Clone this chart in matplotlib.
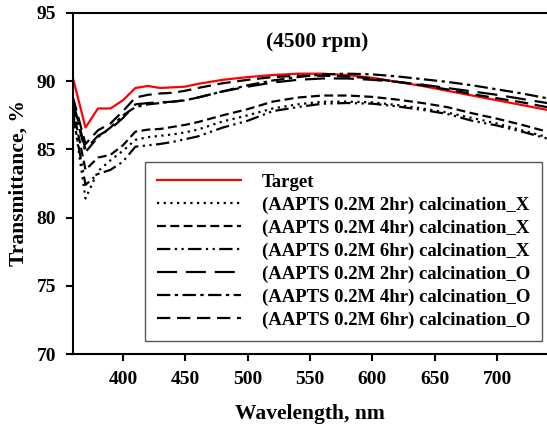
import matplotlib
matplotlib.use("Agg")
import matplotlib.pyplot as plt

plt.rcParams["font.family"] = ["Liberation Serif", "DejaVu Serif"]
plt.rcParams["font.weight"] = "bold"

wavelength = [360, 370, 380, 390, 400, 410, 420, 430, 440, 450, 460, 480, 500,
              520, 540, 560, 580, 600, 620, 640, 660, 680, 700, 720, 740]

target = [90.2, 86.6, 88.0, 88.0, 88.6, 89.5, 89.65, 89.5, 89.55, 89.6, 89.8, 90.1, 90.3,
          90.45, 90.55, 90.55, 90.45, 90.25, 89.95, 89.65, 89.3, 88.95, 88.6, 88.25, 87.9]
x_2hr = [87.8, 81.4, 83.4, 84.2, 84.9, 85.7, 85.9, 86.0, 86.1, 86.25, 86.45, 87.05, 87.5,
         88.0, 88.3, 88.5, 88.5, 88.45, 88.25, 88.0, 87.7, 87.3, 86.9, 86.4, 85.9]
x_4hr = [88.0, 83.5, 84.4, 84.6, 85.3, 86.3, 86.45, 86.5, 86.65, 86.8, 87.0, 87.5, 87.95,
         88.5, 88.8, 88.95, 88.95, 88.85, 88.65, 88.4, 88.1, 87.65, 87.25, 86.8, 86.3]
x_6hr = [87.5, 82.4, 83.2, 83.5, 84.1, 85.2, 85.3, 85.4, 85.55, 85.75, 85.95, 86.6, 87.1,
         87.8, 88.1, 88.35, 88.4, 88.35, 88.15, 87.9, 87.6, 87.1, 86.75, 86.3, 85.8]
o_2hr = [88.5, 85.0, 86.0, 86.5, 87.3, 88.3, 88.4, 88.45, 88.5, 88.6, 88.8, 89.25, 89.6,
         89.9, 90.1, 90.2, 90.2, 90.1, 89.95, 89.75, 89.5, 89.25, 89.0, 88.7, 88.4]
o_4hr = [88.3, 84.8, 85.9, 86.6, 87.5, 88.1, 88.3, 88.4, 88.5, 88.6, 88.8, 89.25, 89.7,
         90.05, 90.3, 90.5, 90.55, 90.5, 90.35, 90.15, 89.95, 89.7, 89.4, 89.1, 88.75]
o_6hr = [88.8, 85.4, 86.4, 86.9, 87.8, 88.8, 89.0, 89.1, 89.15, 89.3, 89.5, 89.85, 90.1,
         90.3, 90.4, 90.4, 90.35, 90.2, 89.95, 89.7, 89.4, 89.05, 88.75, 88.45, 88.1]

labels = ["Target",
          "(AAPTS 0.2M 2hr) calcination_X",
          "(AAPTS 0.2M 4hr) calcination_X",
          "(AAPTS 0.2M 6hr) calcination_X",
          "(AAPTS 0.2M 2hr) calcination_O",
          "(AAPTS 0.2M 4hr) calcination_O",
          "(AAPTS 0.2M 6hr) calcination_O"]

series = [target, x_2hr, x_4hr, x_6hr, o_2hr, o_4hr, o_6hr]
styles = [
    ("red", "-"),
    ("black", (0, (1, 2))),
    ("black", (0, (4, 2))),
    ("black", (0, (6, 2, 1, 2, 1, 2))),
    ("black", (0, (9, 4))),
    ("black", (0, (6, 2, 1.5, 2))),
    ("black", (0, (6, 3))),
]

fig = plt.figure(figsize=(5.47, 4.33), dpi=100)
ax = fig.add_axes([0.1335, 0.1824, 0.8665, 0.7876])

for values, label, (color, ls) in zip(series, labels, styles):
    ax.plot(wavelength, values, color=color, linestyle=ls, linewidth=1.6, label=label)

ax.set_xlim(360, 740)
ax.set_ylim(70, 95)
ax.set_xticks([400, 450, 500, 550, 600, 650, 700])
ax.set_yticks([70, 75, 80, 85, 90, 95])
ax.tick_params(direction="out", length=5, width=1.5, labelsize=14, pad=7)
for side in ["left", "bottom", "top"]:
    ax.spines[side].set_linewidth(1.5)
ax.spines["right"].set_visible(False)

ax.set_xlabel("Wavelength, nm", fontsize=15.5, fontweight="bold", labelpad=12)
ax.set_ylabel("Transmittance, %", fontsize=15.5, fontweight="bold", labelpad=6)
ax.text(0.515, 0.915, "(4500 rpm)", transform=ax.transAxes, ha="center", va="center",
        fontsize=15.5, fontweight="bold")

leg = ax.legend(loc="lower left", bbox_to_anchor=(0.143, 0.028), fontsize=13.5,
                handlelength=4.5, handletextpad=1.1, labelspacing=0.3,
                fancybox=False, framealpha=1, borderpad=0.65, borderaxespad=0.2)
leg.get_frame().set_edgecolor("#555555")
leg.get_frame().set_linewidth(1.0)

fig.savefig("out.png", dpi=100)
